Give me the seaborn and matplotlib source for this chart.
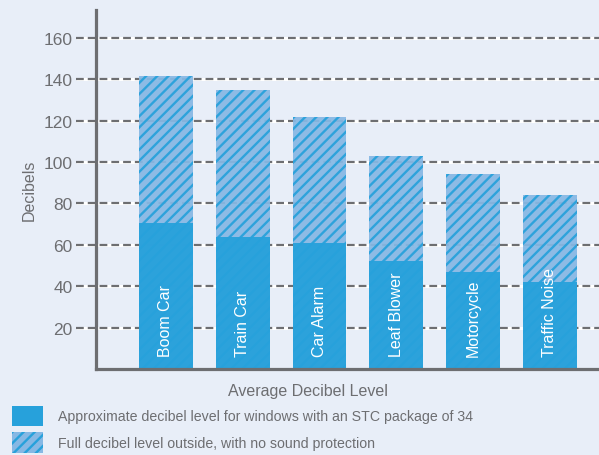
import matplotlib
matplotlib.use("Agg")
import matplotlib.pyplot as plt
import matplotlib.transforms as mtransforms
from matplotlib.patches import Patch
import pandas as pd
import seaborn as sns

# 데이터
sources = ["Boom Car", "Train Car", "Car Alarm", "Leaf Blower", "Motorcycle", "Traffic Noise"]
full_db = [141.5, 135, 122, 103, 94, 84]
stc34_db = [70.5, 64, 61, 52, 47, 42]
y_ticks = [20, 40, 60, 80, 100, 120, 140, 160]

BG = "#e8eef8"
GRAY = "#6d6e71"
SOLID = "#27a1db"
LIGHT = "#86b8e4"

sns.set_theme(style="white")
plt.rcParams["font.family"] = ["Liberation Sans", "DejaVu Sans"]
plt.rcParams["hatch.linewidth"] = 1.7

df = pd.DataFrame({"source": sources, "full": full_db, "stc": stc34_db})

fig = plt.figure(figsize=(5.99, 4.56), dpi=100, facecolor=BG)
ax = fig.add_axes([96 / 599, 86 / 456, 503 / 599, 359 / 456])
ax.set_facecolor(BG)

# 점선 격자 (축 왼쪽으로 살짝 삐져나옴)
trans = mtransforms.blended_transform_factory(ax.transAxes, ax.transData)
for v in y_ticks:
    ax.plot([-0.04, 1], [v, v], transform=trans, color="white", lw=2.2,
            clip_on=False, zorder=0.5, solid_capstyle="butt")
    ax.plot([-0.04, 1], [v, v], transform=trans, color=GRAY, lw=1.6,
            dashes=(3.5, 1.8), clip_on=False, zorder=0.6)

sns.barplot(data=df, x="source", y="full", color=LIGHT, width=0.7,
            saturation=1, ax=ax, zorder=2)
for bar in ax.patches:
    bar.set_hatch("///")
    bar.set_edgecolor(SOLID)
    bar.set_linewidth(0)
    bar.set_alpha(0.93)
n_full = len(ax.patches)
sns.barplot(data=df, x="source", y="stc", color=SOLID, width=0.7,
            saturation=1, ax=ax, zorder=3)
for bar in ax.patches[n_full:]:
    bar.set_linewidth(0)
    bar.set_alpha(0.95)

for i, name in enumerate(sources):
    ax.text(i, 6.5, name, rotation=90, ha="center", va="bottom", color="white",
            fontsize=11.5, zorder=5)

ax.set_xlim(-0.91, 5.64)
ax.set_ylim(0, 173.5)
ax.set_yticks(y_ticks)
ax.set_xticks([])
ax.tick_params(axis="y", length=0, pad=17, labelsize=12.5, labelcolor=GRAY)
ax.set_xlabel("")
ax.set_ylabel("Decibels", color=GRAY, fontsize=11.5, labelpad=5)

for side in ["top", "right"]:
    ax.spines[side].set_visible(False)
for side in ["left", "bottom"]:
    ax.spines[side].set_color(GRAY)
    ax.spines[side].set_linewidth(2.3)
    ax.spines[side].set_zorder(6)

fig.text(308 / 599, 1 - 392 / 456, "Average Decibel Level", ha="center",
         va="center", color=GRAY, fontsize=11.5)

handles = [
    Patch(facecolor=SOLID, edgecolor=SOLID, linewidth=0),
    Patch(facecolor=LIGHT, edgecolor=SOLID, linewidth=0, hatch="///"),
]
labels = [
    "Approximate decibel level for windows with an STC package of 34",
    "Full decibel level outside, with no sound protection",
]
fig.legend(handles, labels, loc="lower left", bbox_to_anchor=(12 / 599, 2 / 456),
           frameon=False, fontsize=10.2, labelcolor=GRAY, handlelength=2.2,
           handleheight=1.85, labelspacing=0.45, handletextpad=1.05,
           borderpad=0, borderaxespad=0)

fig.savefig("out.png", dpi=100, facecolor=BG)
